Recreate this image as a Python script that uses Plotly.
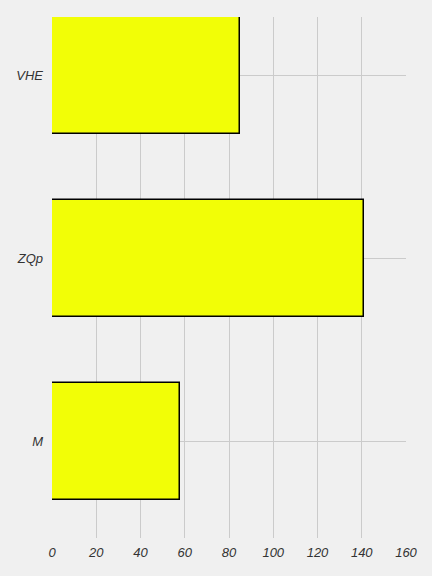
import plotly.graph_objects as go

categories = ["M", "ZQp", "VHE"]
values = [57.8, 140.8, 84.9]
x_ticks = [0, 20, 40, 60, 80, 100, 120, 140, 160]

fig = go.Figure(
    go.Bar(
        y=categories,
        x=values,
        orientation="h",
        width=0.64,
        marker=dict(color="#f2fe06", line=dict(color="#000000", width=1.5)),
    )
)

font = dict(family="Liberation Sans, Arial, sans-serif", size=13, color="#333333", style="italic")

fig.update_layout(
    width=432,
    height=576,
    paper_bgcolor="#f0f0f0",
    plot_bgcolor="#f0f0f0",
    margin=dict(l=52, r=26, t=17, b=38),
    showlegend=False,
    font=font,
    bargap=0,
    xaxis=dict(
        range=[0, 160],
        tickvals=x_ticks,
        ticktext=[str(t) for t in x_ticks],
        showgrid=True,
        gridcolor="#cbcbcb",
        gridwidth=1,
        zeroline=False,
        showline=False,
        ticks="",
        ticklabelstandoff=5,
        tickfont=font,
    ),
    yaxis=dict(
        categoryorder="array",
        categoryarray=categories,
        range=[-0.527, 2.32],
        showgrid=True,
        gridcolor="#cbcbcb",
        gridwidth=1,
        zeroline=False,
        showline=False,
        ticks="",
        ticklabelstandoff=8,
        tickfont=font,
    ),
)

fig.write_html(
    "out.html",
    config={"displayModeBar": False},
    post_script="document.body.style.margin='0';document.body.style.padding='0';",
)
